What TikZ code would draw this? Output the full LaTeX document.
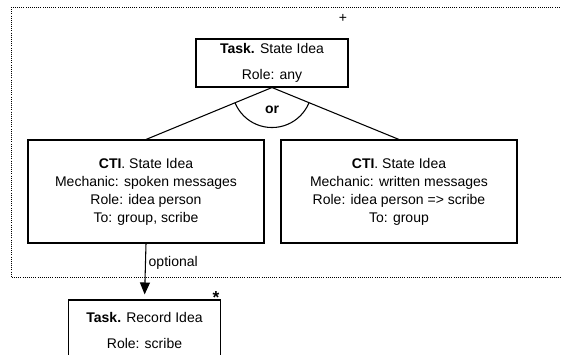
\documentclass[tikz,border=0pt]{standalone}
\usepackage{fontspec}
\setmainfont{Liberation Sans}
\usetikzlibrary{arrows.meta}
\begin{document}
\begin{tikzpicture}[x=0.75pt,y=-0.75pt,
  every node/.style={font=\fontsize{10.5}{13.5}\selectfont},
  taskbox/.style={draw,line width=0.8pt,align=center,inner sep=0pt,minimum width=114pt,minimum height=36pt},
  ctibox/.style={draw,line width=0.8pt,align=center,inner sep=0pt,minimum width=177pt,minimum height=77.25pt}]
\useasboundingbox (0,0) rectangle (561,354);
\draw[densely dotted,line width=0.6pt] (11,7) rectangle (570,277);
\node[taskbox] (state) at (272,63) {\textbf{Task.} State Idea\\[6pt]Role: any};
\node[ctibox] (spoken) at (146,191.5) {\textbf{CTI}. State Idea\\Mechanic: spoken messages\\Role: idea person\\To: group, scribe};
\node[ctibox] (written) at (399,191.5) {\textbf{CTI}. State Idea\\Mechanic: written messages\\Role: idea person => scribe\\To: group};
\node[taskbox,minimum height=45pt] (record) at (144.5,330) {\textbf{Task.} Record Idea\\[6pt]Role: scribe};
\draw[line width=0.8pt] (spoken.north) -- (state.south) -- (written.north);
\begin{scope}
\clip (state.south) -- (spoken.north) -- (written.north) -- cycle;
\draw[line width=0.8pt] (state.south) circle (30pt);
\end{scope}
\node[font=\fontsize{10.5}{12}\selectfont\bfseries] (or) at (272,110) {or};
\draw[line width=0.8pt,-{Triangle[length=9pt,width=7.5pt]},shorten >=3.75pt] (spoken.south) -- (record.north);
\node[anchor=west] (opt) at (144,263) {optional};
\node (plus) at (343,18) {+};
\node[font=\fontsize{13}{14}\selectfont\bfseries] (star) at (216,298) {*};
\end{tikzpicture}
\end{document}
